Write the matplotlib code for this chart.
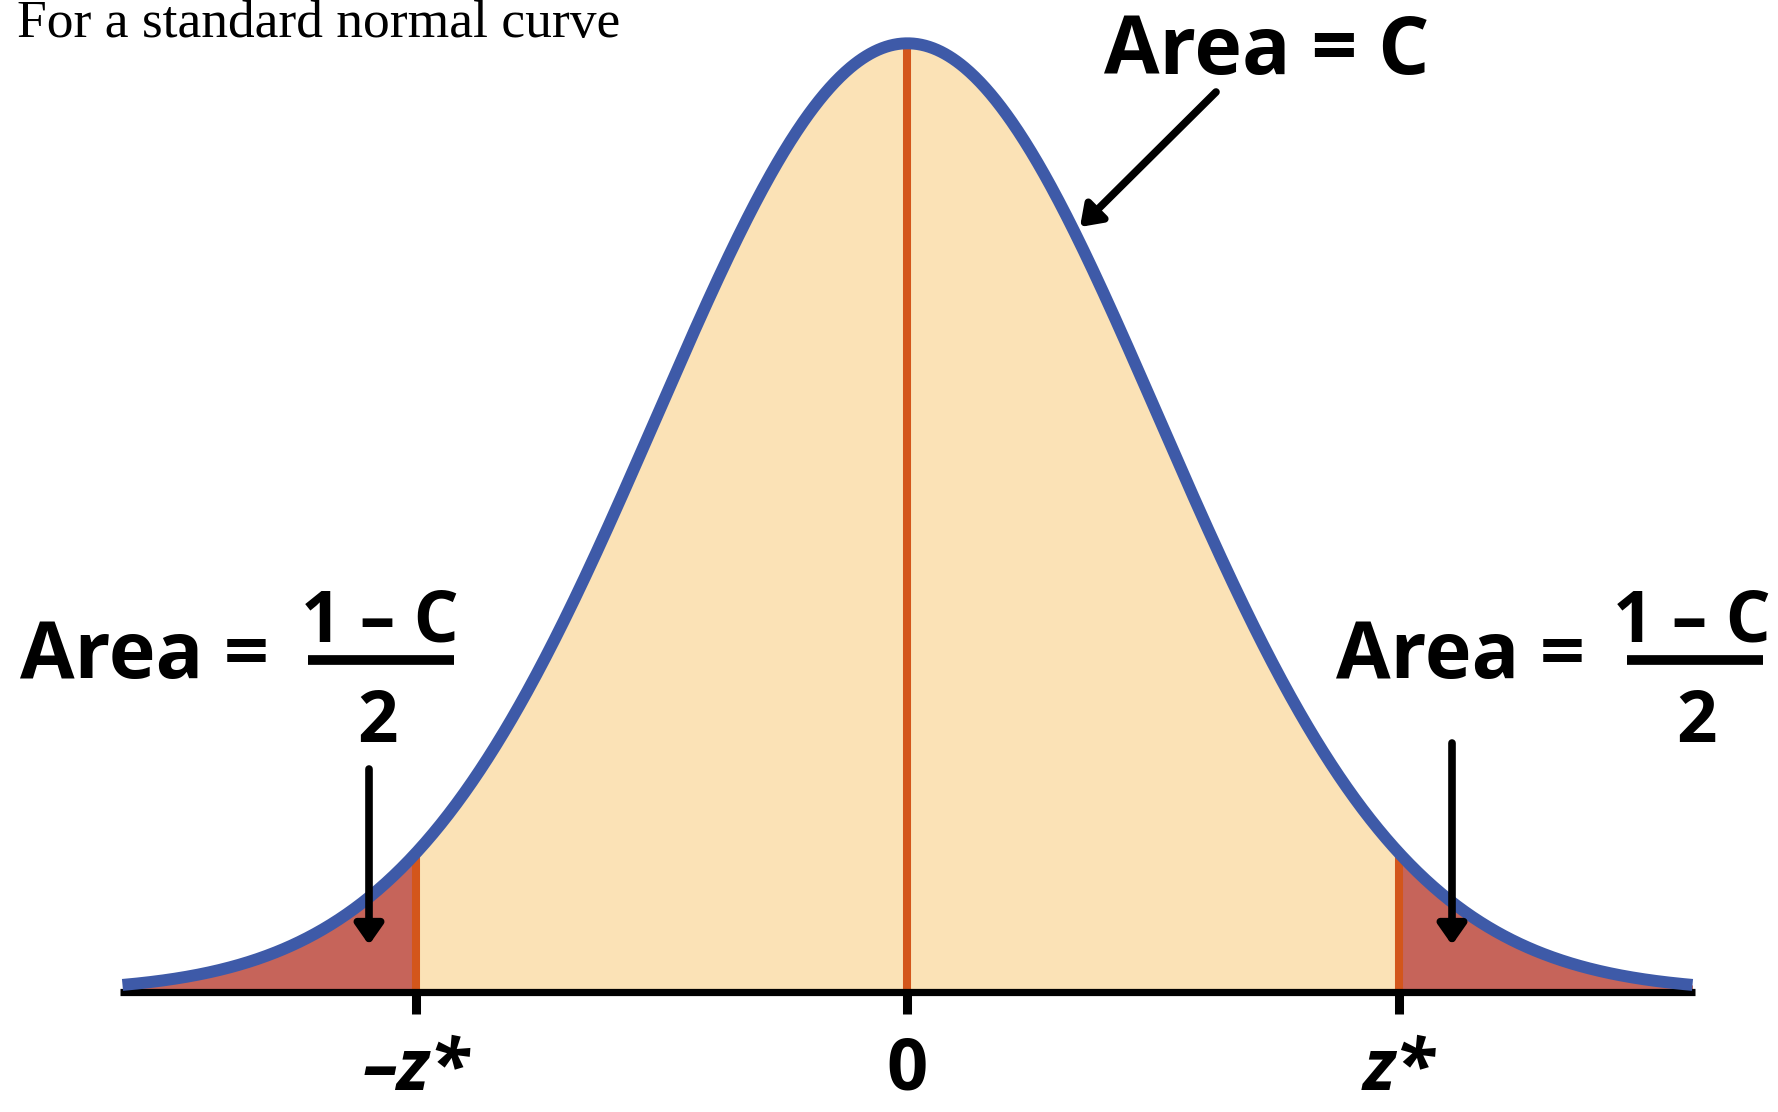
import numpy as np
import matplotlib
matplotlib.use("Agg")
import matplotlib.pyplot as plt
from matplotlib.lines import Line2D

# Chart values
z_star = 1.96                      # critical value marked on the axis
curve_limit = 3.13                 # curve drawn from -limit to +limit
tick_positions = [-z_star, 0.0, z_star]
tick_labels = ["\u2013z*", "0", "z*"]
title_text = "For a standard normal curve"
center_label = "Area = C"
tail_label = "Area ="
tail_numerator = "1 \u2013 C"
tail_denominator = "2"

W, H = 1778, 1112
X0, XS = 907.5, 250.8     # pixel of z=0, pixels per z unit
Y0, YS = 992.0, 2378.0    # pixel of density 0, pixels per density unit

BLUE = "#3e5aa8"
LIGHT = "#fbe2b6"
RED = "#c6645a"
ORANGE = "#d3561b"
BOLD_FONT = ["Open Sans", "DejaVu Sans"]


def fx(px):
    return px / W


def fy(py):
    return 1 - py / H


def pdf(z):
    return np.exp(-z ** 2 / 2) / np.sqrt(2 * np.pi)


fig = plt.figure(figsize=(W / 100, H / 100), dpi=100)
ax = fig.add_axes([0, 0, 1, 1])
ax.set_xlim(-X0 / XS, (W - X0) / XS)
ax.set_ylim((Y0 - H) / YS, Y0 / YS)
ax.axis("off")

z = np.linspace(-curve_limit, curve_limit, 1200)
y = pdf(z)

# shaded regions
mid = (z >= -z_star) & (z <= z_star)
ax.fill_between(z, 0, y, where=mid, color=LIGHT, lw=0, interpolate=True)
ax.fill_between(z, 0, y, where=z <= -z_star, color=RED, lw=0, interpolate=True)
ax.fill_between(z, 0, y, where=z >= z_star, color=RED, lw=0, interpolate=True)

# orange verticals
for t in tick_positions:
    ax.plot([t, t], [0, pdf(t)], color=ORANGE, lw=5.8, solid_capstyle="butt", zorder=3)

# axis line and ticks
ax.plot([-curve_limit - 0.01, curve_limit + 0.01], [0, 0], color="black", lw=5.2,
        solid_capstyle="butt", zorder=4)
for t in tick_positions:
    ax.plot([t, t], [0, -22 / YS], color="black", lw=6.5, solid_capstyle="butt", zorder=4)

# normal curve
ax.plot(z, y, color=BLUE, lw=8.6, solid_capstyle="butt", zorder=5)

# tick labels
for t, lab in zip(tick_positions, tick_labels):
    style = "normal" if lab == "0" else "italic"
    ax.text(t, (Y0 - 1090) / YS, lab, ha="center", va="baseline", fontsize=52,
            fontweight="bold", fontstyle=style, family=BOLD_FONT, zorder=6)

# arrows
arrow_kw = dict(arrowstyle="-|>,head_length=0.6,head_width=0.42", color="black",
                lw=5.5, shrinkA=0, shrinkB=0, mutation_scale=20)
arrows = [((1216, 92), (1080, 227)), ((369, 769), (369, 945)), ((1452, 743), (1452, 945))]
for (sx, sy), (ex, ey) in arrows:
    ax.annotate("", xy=((ex - X0) / XS, (Y0 - ey) / YS), xytext=((sx - X0) / XS, (Y0 - sy) / YS),
                arrowprops=arrow_kw, zorder=7)

# title
fig.text(fx(17), fy(37), title_text, ha="left", va="baseline", fontsize=38.5,
         family=["Liberation Serif", "DejaVu Serif"])

# central label
fig.text(fx(1267), fy(74), center_label, ha="center", va="baseline", fontsize=58,
         fontweight="bold", family=BOLD_FONT)

# tail labels
for left, num_c, bar_l, bar_r, den_c in [(20, 380, 308, 454, 378), (1336, 1692, 1627, 1763, 1697)]:
    fig.text(fx(left), fy(678), tail_label, ha="left", va="baseline", fontsize=57,
             fontweight="bold", family=BOLD_FONT)
    fig.text(fx(num_c), fy(642), tail_numerator, ha="center", va="baseline", fontsize=51,
             fontweight="bold", family=BOLD_FONT)
    fig.add_artist(Line2D([fx(bar_l), fx(bar_r)], [fy(660), fy(660)], color="black", lw=7,
                          solid_capstyle="butt"))
    fig.text(fx(den_c), fy(742), tail_denominator, ha="center", va="baseline", fontsize=51,
             fontweight="bold", family=BOLD_FONT)

fig.savefig("out.png", dpi=100)
